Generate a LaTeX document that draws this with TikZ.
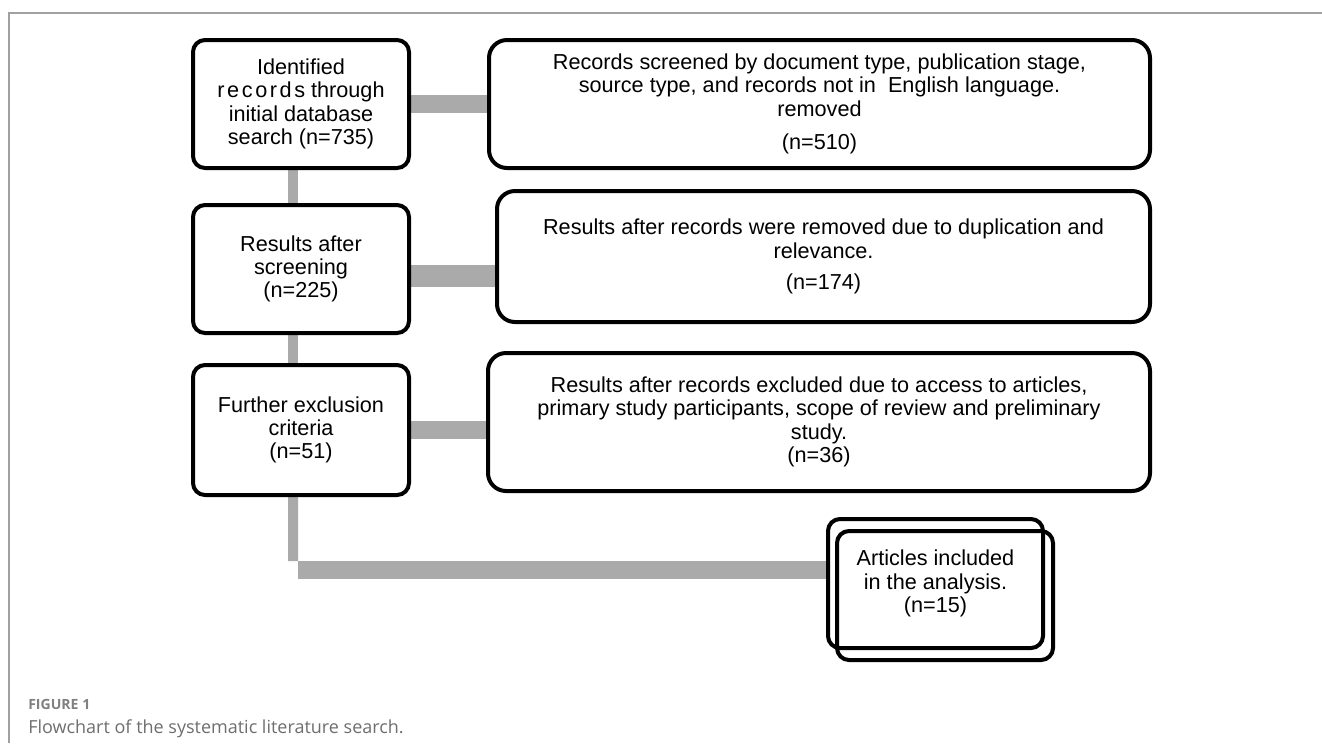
\documentclass[tikz,border=0pt]{standalone}
\usepackage{fontspec}
\setmainfont{Liberation Sans}
\newfontfamily\pie{Open Sans}
\usetikzlibrary{backgrounds}
\begin{document}
\begin{tikzpicture}

	%DEFINICIONES
	\tikzstyle{every node}=[font=\fontsize{15.4}{16.6}\selectfont]
	\tikzstyle{caja} = [draw, rounded corners=0.3cm, align=center, line width=1mm, minimum width=5.4cm, minimum height=3.2cm, inner sep=0pt]
	\tikzstyle{cajaR} = [draw, rounded corners=0.45cm, align=center, line width=1mm, inner sep=0pt]
	\tikzstyle{cajaF} = [draw, rounded corners=0.3cm, align=center, line width=1mm, minimum width=5.4cm, minimum height=3.225cm, inner sep=0pt]
	\tikzstyle{conector} = [line width=0.45cm, draw={rgb,255:red,170; green,170; blue,170}]
	\tikzstyle{marco} = [line width=0.04cm, draw={rgb,255:red,160; green,160; blue,160}]
	\tikzstyle{pie} = [anchor=base west, inner sep=0pt, font=\pie\fontsize{12.8}{15}\selectfont, text={rgb,255:red,110; green,110; blue,110}]

	%MARCO
	\useasboundingbox (0,0) rectangle (33.05,-18.575);
	\draw[marco] (0.225,-18.575) -- (0.225,-0.325) -- (33.05,-0.325);

	%BLOQUES
	\draw(7.525,-2.6) node[caja](b1){Identified\\ {\addfontfeature{LetterSpace=12}records} through\\ initial database\\ search (n=735)};
	\draw(7.525,-6.725) node[caja](b2){Results after\\ screening\\ (n=225)};
	\draw(7.525,-10.75) node[caja, minimum height=3.25cm](b3){Further exclusion\\ criteria\\ (n=51)};

	\draw(20.4875,-2.6) node[cajaR, minimum width=16.525cm, minimum height=3.2cm](r1){Records screened by document type, publication stage,\\ source type, and records not in\ \ English language.\\ removed\\[0.26cm] (n=510)};
	\draw(20.5875,-6.4125) node[cajaR, minimum width=16.325cm, minimum height=3.275cm](r2){Results after records were removed due to duplication and\\ relevance.\\[0.2cm] (n=174)};
	\draw(20.475,-10.55) node[cajaR, minimum width=16.55cm, minimum height=3.45cm](r3){Results after records excluded due to access to articles,\\ primary study participants, scope of review and preliminary\\ study.\\ (n=36)};

	\draw(23.3875,-14.5875) node[cajaF, minimum width=5.375cm](f1){Articles included\\ in the analysis.\\ (n=15)};
	\draw(23.625,-14.8875) node[cajaF](f2){};

	%CONECTORES
	\begin{scope}[on background layer]
	\draw [conector] (b1.east) -- (b1.east -| r1.west);
	\draw [conector, line width=0.55cm] ([yshift=-0.175cm]b2.east) -- ([yshift=-0.175cm]b2.east -| r2.west);
	\draw [conector] (b3.east) -- (b3.east -| r3.west);
	\draw [conector, line width=0.25cm] ([xshift=-0.2cm]b1.south) -- ([xshift=-0.2cm]b2.north);
	\draw [conector, line width=0.25cm] ([xshift=-0.2cm]b2.south) -- ([xshift=-0.2cm]b3.north);
	\coordinate (codo) at (7.325,-14.03);
	\coordinate (codo2) at (7.45,-14.25);
	\draw [conector, line width=0.25cm] ([xshift=-0.2cm]b3.south) -- (codo);
	\draw [conector] (codo2) -- (codo2 -| f1.west);
	\end{scope}

	%PIE
	\draw(0.7,-17.725) node[pie, font=\pie\bfseries\fontsize{10}{12}\selectfont, text={rgb,255:red,128; green,128; blue,128}](fig){FIGURE 1};
	\draw(0.7,-18.325) node[pie](cap){Flowchart of the systematic literature search.};
\end{tikzpicture}
\end{document}
